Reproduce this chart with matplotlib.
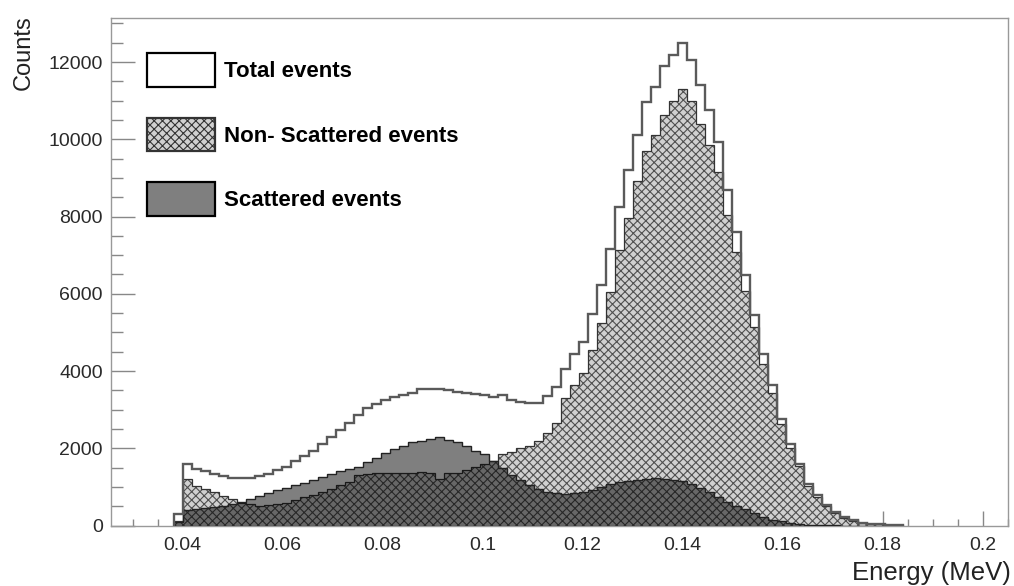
import numpy as np
import matplotlib
matplotlib.use("Agg")
import matplotlib.pyplot as plt
from matplotlib.patches import Patch
from matplotlib.ticker import MultipleLocator

plt.rcParams["font.family"] = ["Liberation Sans", "DejaVu Sans"]
plt.rcParams["hatch.linewidth"] = 0.8

# histogram binning (energy, MeV)
bin_lo = 0.0382
bin_w = 0.0018

# counts per bin
total = [290, 1600, 1450, 1400, 1340, 1270, 1240, 1235, 1235, 1270,
         1340, 1440, 1510, 1680, 1790, 1940, 2110, 2290, 2460, 2650,
         2850, 3050, 3150, 3260, 3320, 3390, 3430, 3540, 3540, 3540,
         3510, 3450, 3440, 3410, 3380, 3320, 3390, 3240, 3190, 3170,
         3170, 3350, 3580, 4060, 4450, 4750, 5480, 6220, 7170, 8250,
         9200, 10100, 10960, 11350, 11910, 12170, 12480, 12040, 11400, 10750,
         9930, 8680, 7610, 6490, 5440, 4450, 3630, 2760, 2120, 1600,
         1080, 780, 520, 345, 215, 130, 70, 45, 35, 25,
         15]
non_scattered = [120, 1200, 1030, 950, 860, 760, 690, 580, 545, 510,
                 525, 560, 590, 670, 740, 800, 875, 955, 1045, 1135,
                 1300, 1340, 1360, 1360, 1370, 1370, 1350, 1380, 1360, 1200,
                 1350, 1370, 1440, 1520, 1590, 1680, 1850, 1910, 2000, 2070,
                 2190, 2400, 2650, 3300, 3640, 3960, 4540, 5240, 6040, 7140,
                 7950, 8920, 9700, 10110, 10640, 11000, 11310, 10990, 10400, 9850,
                 9150, 8050, 7090, 6080, 5130, 4180, 3440, 2620, 2010, 1530,
                 1020, 740, 495, 330, 205, 120, 60, 40, 30, 20,
                 12]
scattered = [90, 400, 420, 450, 480, 510, 550, 600, 690, 770,
             850, 920, 980, 1040, 1110, 1190, 1260, 1330, 1400, 1460,
             1520, 1650, 1760, 1890, 1980, 2070, 2150, 2200, 2245, 2290,
             2210, 2160, 2070, 1940, 1850, 1680, 1500, 1320, 1180, 1060,
             950, 880, 840, 820, 830, 870, 930, 1000, 1080, 1130,
             1160, 1190, 1210, 1220, 1210, 1190, 1160, 1080, 960, 860,
             740, 600, 500, 420, 320, 220, 150, 110, 70, 40,
             25, 15, 10, 5, 0, 0, 0, 0, 0, 0,
             0]

labels = ["Total events", "Non- Scattered events", "Scattered events"]
x_ticks = [0.04, 0.06, 0.08, 0.1, 0.12, 0.14, 0.16, 0.18, 0.2]
x_tick_labels = ["0.04", "0.06", "0.08", "0.1", "0.12", "0.14", "0.16", "0.18", "0.2"]
y_ticks = [0, 2000, 4000, 6000, 8000, 10000, 12000]

edges = bin_lo + bin_w * np.arange(len(total) + 1)

fig = plt.figure(figsize=(10.14, 5.86), dpi=100)
ax = fig.add_axes([111 / 1014, 1 - 525.5 / 586, 897 / 1014, 507.5 / 586])

hatch_face = "#d0d0d0"
hatch_col = "#505050"

# fills
ax.stairs(total, edges, fill=True, facecolor="white", edgecolor="none", zorder=1)
ax.stairs(non_scattered, edges, fill=True, facecolor=hatch_face, edgecolor=hatch_col,
          hatch="xxxx", linewidth=0, zorder=2)
ax.stairs(non_scattered, edges, color="#333333", linewidth=0.9, zorder=2.5)
ax.stairs(scattered, edges, fill=True, facecolor=(0, 0, 0, 0.5), edgecolor="none", zorder=3)

# outlines
ax.stairs(scattered, edges, color="#222222", linewidth=1.0, zorder=4)
ax.stairs(total, edges, color="#5a5a5a", linewidth=1.7, zorder=5)

ax.set_xlim(0.02566, 0.2051)
ax.set_ylim(0, 13140)

ax.set_xticks(x_ticks)
ax.set_xticklabels(x_tick_labels)
ax.set_yticks(y_ticks)
ax.xaxis.set_minor_locator(MultipleLocator(0.005))
ax.yaxis.set_minor_locator(MultipleLocator(500))

ax.tick_params(axis="both", which="both", direction="in", color="#888888", width=1,
               labelcolor="#2a2a2a", labelsize=14)
ax.tick_params(axis="y", which="major", length=17, pad=6)
ax.tick_params(axis="y", which="minor", length=8.5)
ax.tick_params(axis="x", which="major", length=10.8, pad=8)
ax.tick_params(axis="x", which="minor", length=5.4)

for s in ax.spines.values():
    s.set_color("#999999")
    s.set_linewidth(1)

ax.set_xlabel("Energy (MeV)", fontsize=18.5, color="#222222", loc="right")
ax.xaxis.set_label_coords(1 + 3 / 897, -0.07)
ax.set_ylabel("Counts", fontsize=17, color="#222222", loc="top")
ax.yaxis.set_label_coords(-76 / 897, 1.005)

handles = [
    Patch(facecolor="white", edgecolor="black", linewidth=1.6),
    Patch(facecolor=hatch_face, edgecolor="#333333", hatch="xxxx", linewidth=1.6),
    Patch(facecolor="#7f7f7f", edgecolor="black", linewidth=1.6),
]
ax.legend(handles, labels, loc="upper left",
          bbox_to_anchor=((146.5 - 111) / 897, (525.5 - 53) / 507.5),
          frameon=False, borderpad=0, borderaxespad=0,
          handlelength=3.06, handleheight=1.95, labelspacing=1.4, handletextpad=0.42,
          prop={"weight": "bold", "size": 16})

fig.savefig("out.png", dpi=100)
